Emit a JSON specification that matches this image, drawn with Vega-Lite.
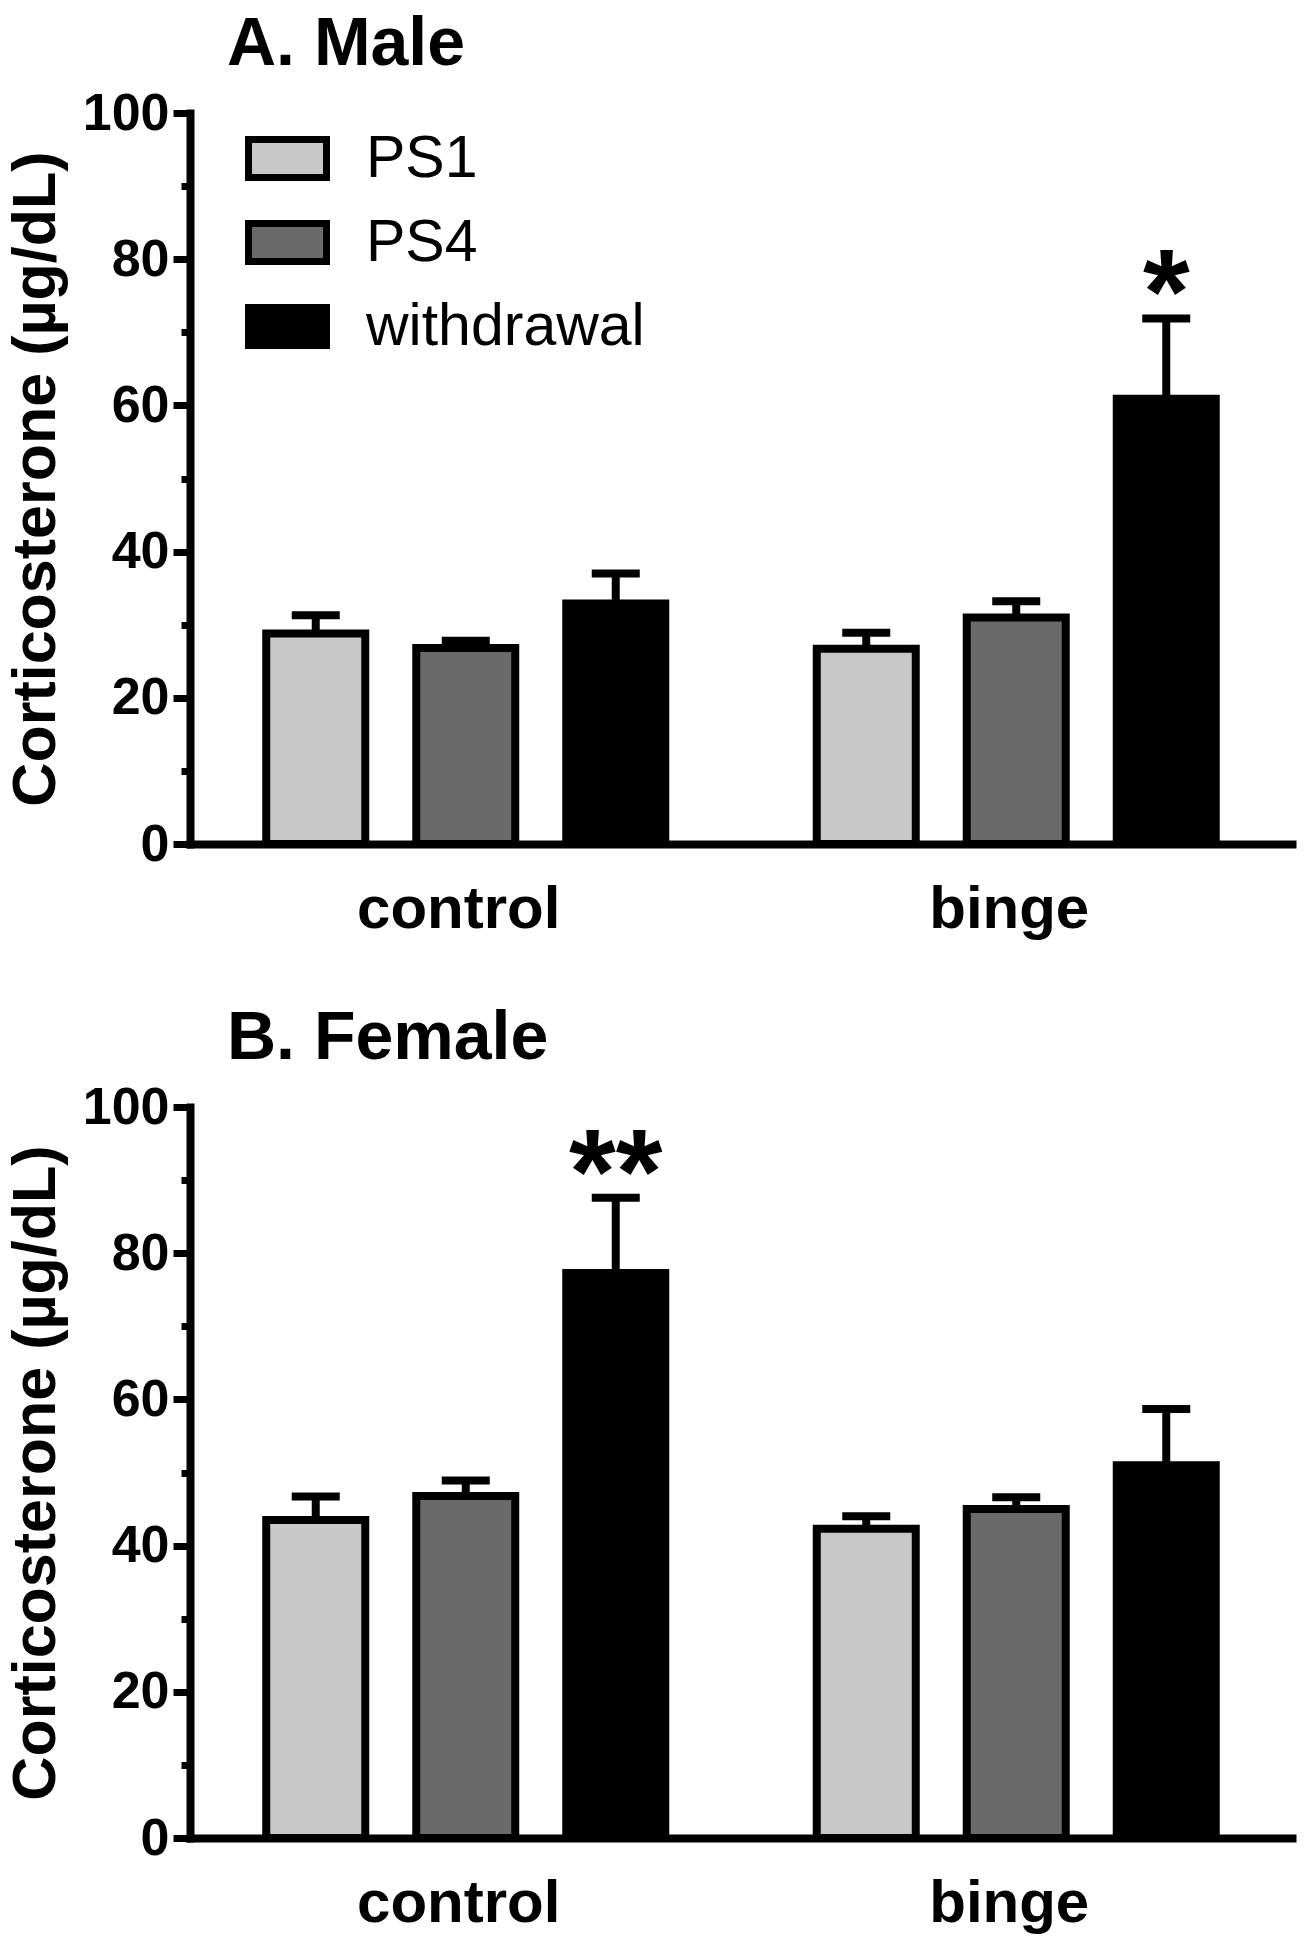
{
  "$schema": "https://vega.github.io/schema/vega-lite/v6.json",
  "background": "white",
  "padding": {"left": 5, "top": 11, "right": 5, "bottom": 5},
  "config": {
    "font": "Liberation Sans",
    "view": {"stroke": null},
    "axis": {"grid": false, "domainColor": "black", "tickColor": "black", "labelColor": "black", "titleColor": "black"}
  },
  "datasets": {
    "male": [
      {"treatment": "control", "phase": "PS1", "mean": 28.8, "upper": 31.3, "sig": ""},
      {"treatment": "control", "phase": "PS4", "mean": 26.8, "upper": 27.8, "sig": ""},
      {"treatment": "control", "phase": "withdrawal", "mean": 32.9, "upper": 37.0, "sig": ""},
      {"treatment": "binge", "phase": "PS1", "mean": 26.7, "upper": 28.9, "sig": ""},
      {"treatment": "binge", "phase": "PS4", "mean": 31.0, "upper": 33.2, "sig": ""},
      {"treatment": "binge", "phase": "withdrawal", "mean": 60.9, "upper": 71.9, "sig": "*"}
    ],
    "female": [
      {"treatment": "control", "phase": "PS1", "mean": 43.5, "upper": 46.7, "sig": ""},
      {"treatment": "control", "phase": "PS4", "mean": 46.8, "upper": 48.9, "sig": ""},
      {"treatment": "control", "phase": "withdrawal", "mean": 77.3, "upper": 87.6, "sig": "**"},
      {"treatment": "binge", "phase": "PS1", "mean": 42.3, "upper": 44.0, "sig": ""},
      {"treatment": "binge", "phase": "PS4", "mean": 45.0, "upper": 46.6, "sig": ""},
      {"treatment": "binge", "phase": "withdrawal", "mean": 51.0, "upper": 58.7, "sig": ""}
    ]
  },
  "spacing": 66,
  "resolve": {"scale": {"fill": "independent"}, "legend": {"fill": "independent"}},
  "vconcat": [
    {
      "data": {"name": "male"},
      "width": 1102,
      "height": 731,
      "title": {"text": "A. Male", "anchor": "start", "frame": "group", "dx": 37, "fontSize": 68, "fontWeight": "bold", "baseline": "alphabetic", "offset": -46, "color": "black"},
      "encoding": {
        "x": {"field": "treatment", "type": "nominal", "sort": ["control", "binge"],
          "scale": {"paddingInner": 0.2752, "paddingOuter": 0.1385},
          "axis": {"title": null, "labelAngle": 0, "ticks": false, "labelPadding": 36, "labelOffset": -7, "labelFontSize": 60, "labelFontWeight": "bold", "labelLimit": 500, "domainWidth": 8, "domainCap": "square"}},
        "xOffset": {"field": "phase", "type": "nominal", "sort": ["PS1", "PS4", "withdrawal"], "scale": {"paddingInner": 0.34, "paddingOuter": 0}}
      },
      "layer": [
        {
          "mark": {"type": "bar", "stroke": "black", "strokeWidth": 8},
          "encoding": {
            "y": {"field": "mean", "type": "quantitative", "scale": {"domain": [0, 100], "nice": false},
              "axis": {"title": "Corticosterone (µg/dL)", "titleFontSize": 61, "titleFontWeight": "bold", "titlePadding": 15,
                "values": [0, 10, 20, 30, 40, 50, 60, 70, 80, 90, 100],
                "labelExpr": "datum.value % 20 === 0 ? datum.label : ''",
                "labelFontSize": 52, "labelFontWeight": "bold", "labelPadding": 4,
                "tickSize": {"condition": {"test": "datum.value % 20 === 0", "value": 17}, "value": 9},
                "tickWidth": 7, "domainWidth": 8, "domainCap": "square"}},
            "fill": {"field": "phase", "type": "nominal",
              "scale": {"domain": ["PS1", "PS4", "withdrawal"], "range": ["#c8c8c8", "#6a6a6a", "#000000"]},
              "legend": {"title": null, "orient": "none", "legendX": 55, "legendY": 3, "padding": 0,
                "symbolType": "M-1,-0.487H1V0.487H-1Z", "symbolSize": 6084, "symbolStrokeColor": "black", "symbolStrokeWidth": 7,
                "labelFontSize": 59, "labelColor": "black", "labelOffset": 36, "rowPadding": 8, "labelLimit": 500}}
          }
        },
        {
          "mark": {"type": "rule", "strokeWidth": 8, "color": "black"},
          "encoding": {"y": {"field": "mean", "type": "quantitative"}, "y2": {"field": "upper"}}
        },
        {
          "mark": {"type": "tick", "size": 48, "thickness": 8, "color": "black", "opacity": 1, "orient": "horizontal"},
          "encoding": {"y": {"field": "upper", "type": "quantitative"}}
        },
        {
          "transform": [{"filter": "datum.sig != ''"}],
          "mark": {"type": "text", "fontSize": 120, "fontWeight": "bold", "baseline": "alphabetic", "dy": 15, "color": "black"},
          "encoding": {"y": {"field": "upper", "type": "quantitative"}, "text": {"field": "sig"}}
        }
      ]
    },
    {
      "data": {"name": "female"},
      "width": 1102,
      "height": 731,
      "title": {"text": "B. Female", "anchor": "start", "frame": "group", "dx": 37, "fontSize": 68, "fontWeight": "bold", "baseline": "alphabetic", "offset": -46, "color": "black"},
      "encoding": {
        "x": {"field": "treatment", "type": "nominal", "sort": ["control", "binge"],
          "scale": {"paddingInner": 0.2752, "paddingOuter": 0.1385},
          "axis": {"title": null, "labelAngle": 0, "ticks": false, "labelPadding": 36, "labelOffset": -7, "labelFontSize": 60, "labelFontWeight": "bold", "labelLimit": 500, "domainWidth": 8, "domainCap": "square"}},
        "xOffset": {"field": "phase", "type": "nominal", "sort": ["PS1", "PS4", "withdrawal"], "scale": {"paddingInner": 0.34, "paddingOuter": 0}}
      },
      "layer": [
        {
          "mark": {"type": "bar", "stroke": "black", "strokeWidth": 8},
          "encoding": {
            "y": {"field": "mean", "type": "quantitative", "scale": {"domain": [0, 100], "nice": false},
              "axis": {"title": "Corticosterone (µg/dL)", "titleFontSize": 61, "titleFontWeight": "bold", "titlePadding": 15,
                "values": [0, 10, 20, 30, 40, 50, 60, 70, 80, 90, 100],
                "labelExpr": "datum.value % 20 === 0 ? datum.label : ''",
                "labelFontSize": 52, "labelFontWeight": "bold", "labelPadding": 4,
                "tickSize": {"condition": {"test": "datum.value % 20 === 0", "value": 17}, "value": 9},
                "tickWidth": 7, "domainWidth": 8, "domainCap": "square"}},
            "fill": {"field": "phase", "type": "nominal",
              "scale": {"domain": ["PS1", "PS4", "withdrawal"], "range": ["#c8c8c8", "#6a6a6a", "#000000"]},
              "legend": null}
          }
        },
        {
          "mark": {"type": "rule", "strokeWidth": 8, "color": "black"},
          "encoding": {"y": {"field": "mean", "type": "quantitative"}, "y2": {"field": "upper"}}
        },
        {
          "mark": {"type": "tick", "size": 48, "thickness": 8, "color": "black", "opacity": 1, "orient": "horizontal"},
          "encoding": {"y": {"field": "upper", "type": "quantitative"}}
        },
        {
          "transform": [{"filter": "datum.sig != ''"}],
          "mark": {"type": "text", "fontSize": 120, "fontWeight": "bold", "baseline": "alphabetic", "dy": 15, "color": "black"},
          "encoding": {"y": {"field": "upper", "type": "quantitative"}, "text": {"field": "sig"}}
        }
      ]
    }
  ]
}
